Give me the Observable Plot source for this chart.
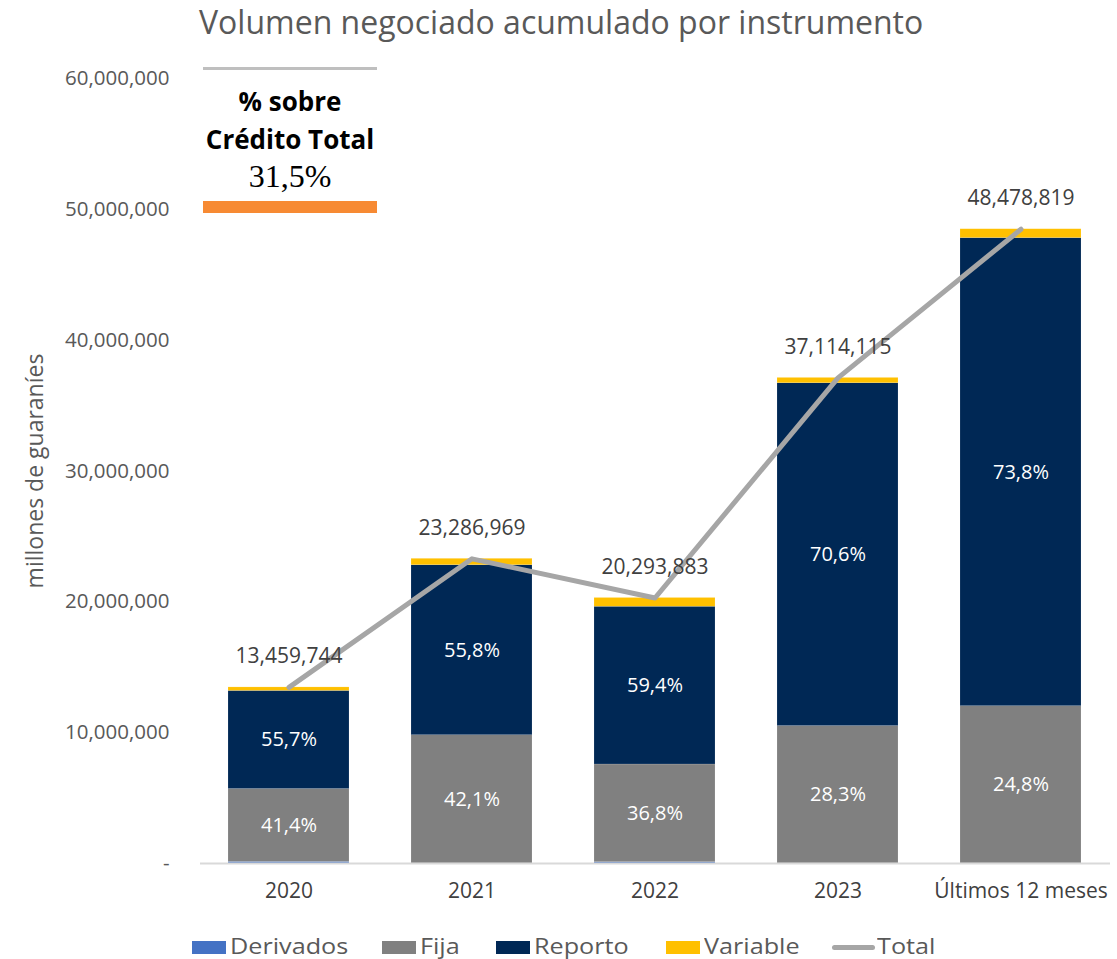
<!DOCTYPE html>
<html>
<head>
<meta charset="utf-8">
<script src="https://cdn.jsdelivr.net/npm/d3@7"></script>
<script src="https://cdn.jsdelivr.net/npm/@observablehq/plot@0.6"></script>
<style>
  html, body { margin: 0; padding: 0; background: #fff; }
  #wrap { position: relative; width: 1117px; height: 959px; overflow: hidden; font-family: "Open Sans", sans-serif; }
  #title { position: absolute; left: 199px; top: 0px; font-size: 32px; color: #595959; font-weight: 400; white-space: nowrap; }
  #chart { position: absolute; left: 0; top: 60px; }
  #note { position: absolute; left: 203px; top: 67px; width: 174px; text-align: center; }
  #note .rule { height: 3px; background: #BFBFBF; }
  #note .l1 { font-family: "Open Sans", sans-serif; font-weight: 700; font-size: 26px; color: #000; line-height: 38px; margin-top: 12px; white-space: nowrap; margin-left: -20px; margin-right: -20px; }
  #note .l2 { font-family: "Liberation Serif", "DejaVu Serif", serif; font-size: 32px; color: #000; line-height: 40px; margin-top: -2px; }
  #note .bar { height: 12px; background: #F78A33; margin-top: 5px; }
  #legend { position: absolute; left: 0; top: 934px; width: 1117px; height: 24px; font-family: "Open Sans", sans-serif; font-size: 21px; color: #595959; white-space: nowrap; }
  #legend .sw { position: absolute; top: 7px; width: 34px; height: 13px; }
  #legend .ln { position: absolute; top: 11px; width: 43px; height: 5px; border-radius: 3px; background: #A6A6A6; }
  #legend .tx { position: absolute; top: 0px; transform-origin: left center; transform: scaleX(1.2); line-height: 24px; height: 24px; }
</style>
</head>
<body>
<div id="wrap">
  <div id="title">Volumen negociado acumulado por instrumento</div>
  <div id="chart"></div>
  <div id="note">
    <div class="rule"></div>
    <div class="l1">% sobre<br>Crédito Total</div>
    <div class="l2">31,5%</div>
    <div class="bar"></div>
  </div>
  <div id="legend"></div>
</div>
<script>
// ---- Data ----
const categories = ["2020", "2021", "2022", "2023", "Últimos 12 meses"];
const seriesNames = ["Derivados", "Fija", "Reporto", "Variable"];
const seriesColors = ["#4472C4", "#808080", "#002855", "#FFC000"];
const derivados = [120000, 0, 100000, 0, 0];
const fija = [5572000, 9804000, 7468000, 10503000, 12023000];
const reporto = [7497000, 12994000, 12055000, 26203000, 35777000];
const variable = [270000, 489000, 671000, 408000, 679000];
const totals = [13459744, 23286969, 20293883, 37114115, 48478819];
const fijaPct = ["41,4%", "42,1%", "36,8%", "28,3%", "24,8%"];
const reportoPct = ["55,7%", "55,8%", "59,4%", "70,6%", "73,8%"];
const yTicks = [0, 10000000, 20000000, 30000000, 40000000, 50000000, 60000000];
const yLabel = "millones de guaraníes";
const totalLabel = "Total";

// ---- Build tables ----
const seriesValues = [derivados, fija, reporto, variable];
const long = [];
categories.forEach((c, i) => {
  seriesNames.forEach((s, j) => {
    let label = "";
    if (s === "Fija") label = fijaPct[i];
    if (s === "Reporto") label = reportoPct[i];
    long.push({cat: c, series: s, value: seriesValues[j][i], label});
  });
});
const totalData = categories.map((c, i) => ({cat: c, total: totals[i]}));
const fmt = d3.format(",");

const chart = Plot.plot({
  width: 1117,
  height: 870,
  marginLeft: 200,
  marginRight: 7,
  marginTop: 18,
  marginBottom: 67,
  style: {fontFamily: "'Open Sans', sans-serif", background: "#fff"},
  x: {domain: categories, paddingInner: 0.338, paddingOuter: 0.15, label: null},
  y: {domain: [0, 60000000], label: null},
  color: {domain: seriesNames, range: seriesColors},
  marks: [
    Plot.axisY({ticks: yTicks, tickSize: 0, tickPadding: 31, fontSize: 20.5, color: "#595959",
      tickFormat: d => d === 0 ? "-" : fmt(d), label: null}),
    Plot.axisX({tickSize: 0, tickPadding: 20, fontSize: 21, color: "#404040", label: null}),
    Plot.text([yLabel], {frameAnchor: "left", dx: -165, rotate: -90, fontSize: 23, textAnchor: "middle",
      fill: "#595959"}),
    Plot.barY(long, {x: "cat", y: "value", fill: "series", order: seriesNames,
      stroke: "#ffffff", strokeOpacity: 0.25, strokeWidth: 0.5}),
    Plot.ruleY([0], {stroke: "#D9D9D9", strokeWidth: 2}),
    Plot.text(long, Plot.stackY({x: "cat", y: "value", z: "series", order: seriesNames, text: "label",
      fill: "#ffffff", fontSize: 20})),
    Plot.line(totalData, {x: "cat", y: "total", stroke: "#A6A6A6", strokeWidth: 5, strokeLinecap: "round", strokeLinejoin: "round"}),
    Plot.text(totalData, {x: "cat", y: "total", text: d => fmt(d.total), dy: -31, fontSize: 21, fill: "#404040"})
  ]
});
document.getElementById("chart").appendChild(chart);

// ---- Legend ----
const legend = document.getElementById("legend");
const legendX = [192, 382, 496, 666, 832];   // swatch starts
const legendNames = seriesNames.concat([totalLabel]);
legendNames.forEach((s, j) => {
  const mark = document.createElement("div");
  const isLine = j === seriesNames.length;
  mark.className = isLine ? "ln" : "sw";
  if (!isLine) mark.style.background = seriesColors[j];
  mark.style.left = legendX[j] + "px";
  legend.appendChild(mark);
  const tx = document.createElement("div");
  tx.className = "tx";
  tx.style.left = (legendX[j] + (isLine ? 45 : 38)) + "px";
  tx.textContent = s;
  legend.appendChild(tx);
});
</script>
</body>
</html>
